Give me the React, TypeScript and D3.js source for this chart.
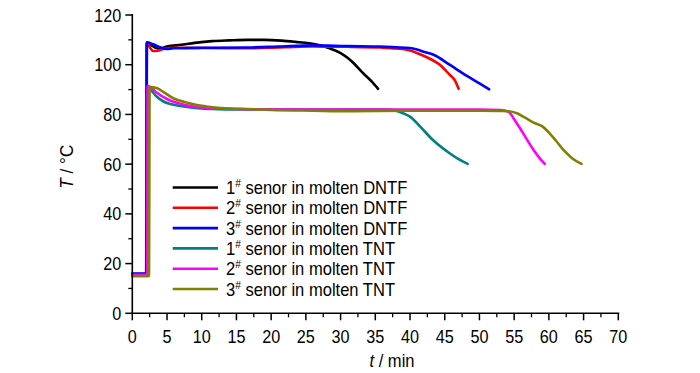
import React from "react";
import * as d3 from "d3";

const xTicks = [0, 5, 10, 15, 20, 25, 30, 35, 40, 45, 50, 55, 60, 65, 70];
const yTicks = [0, 20, 40, 60, 80, 100, 120];

const seriesNames = [
  "1# senor in molten DNTF",
  "2# senor in molten DNTF",
  "3# senor in molten DNTF",
  "1# senor in molten TNT",
  "2# senor in molten TNT",
  "3# senor in molten TNT",
];
const seriesColors = ["#000000", "#ff0000", "#0000ff", "#008080", "#ff00ff", "#808000"];

const dntf1T = [0, 2.0, 2.1, 2.6, 3.2, 4.0, 5.0, 7.0, 9.0, 11.5, 14, 16.5, 19, 21.5, 23.5, 25.5, 27, 28.5, 30, 31, 32, 33.2, 34.5, 35.4];
const dntf1V = [15.5, 15.5, 108.5, 108, 107, 106.5, 107.3, 108, 108.8, 109.5, 109.8, 110, 110, 109.7, 109.2, 108.6, 107.8, 106.5, 104.7, 102.8, 100.3, 96.7, 93.2, 90.3];

const dntf2T = [0, 2.0, 2.05, 2.5, 3.0, 3.6, 4.5, 6, 10, 16.5, 22, 26, 31, 35.7, 38, 40, 41.6, 43, 44.3, 45.7, 46.5, 47.0];
const dntf2V = [15.8, 15.8, 108.8, 107, 105.5, 105.6, 106.3, 106.8, 106.7, 106.6, 107, 107.3, 107.2, 106.9, 106.5, 105.7, 104, 102.2, 100, 96, 93.5, 90.3];

const dntf3T = [0, 2.05, 2.1, 3.0, 4.0, 4.9, 6, 10, 16.5, 21, 26, 31, 35.7, 38, 40, 41, 42, 43.4, 45.7, 48.2, 50, 51.4];
const dntf3V = [16, 16, 109, 108.2, 107, 106.3, 106.6, 106.8, 106.9, 107.3, 107.8, 107.5, 107.3, 107, 106.7, 106.1, 105.2, 104, 100, 95.5, 92.5, 90.1];

const tnt1T = [0, 2.2, 2.3, 2.8, 3.5, 4.5, 5.5, 6.9, 9, 11.6, 15, 20, 25, 30, 35, 37, 38, 39, 40, 41.5, 43.3, 45.7, 47, 48.3];
const tnt1V = [15, 15, 91, 89.5, 87.2, 85.2, 84.2, 83.4, 82.6, 82.2, 82, 82, 82, 82, 82, 81.9, 81.5, 80.5, 79.1, 75, 69.7, 64.4, 62, 60.1];

const tnt2T = [0, 2.15, 2.2, 2.8, 3.5, 5, 7, 10, 15, 20, 30, 40, 50, 53, 54.2, 54.9, 55.6, 56.3, 57.8, 58.7, 59.4];
const tnt2V = [15.5, 15.5, 91.5, 90.5, 88.8, 86.2, 84.2, 82.8, 82.2, 82, 82, 82, 82, 81.8, 81.1, 78.5, 75.5, 72.4, 65.7, 62.3, 60.1];

const tnt3T = [0, 2.4, 2.5, 3.5, 4.5, 5.9, 7.5, 9.3, 11.6, 14, 16.5, 20, 26, 31.3, 40, 50, 53, 54.2, 55.4, 56.5, 57.8, 59, 60.1, 61, 62.1, 63.3, 64.7];
const tnt3V = [15, 15, 91, 90.6, 89, 86.5, 85, 83.8, 82.9, 82.4, 82.2, 81.8, 81.5, 81.3, 81.5, 81.5, 81.4, 81.3, 80.5, 78.8, 76.7, 75.3, 72.4, 69.5, 65.7, 62.5, 60.1];

const seriesT = [dntf1T, dntf2T, dntf3T, tnt1T, tnt2T, tnt3T];
const seriesV = [dntf1V, dntf2V, dntf3V, tnt1V, tnt2V, tnt3V];

const FONT = "'Liberation Sans', Arial, sans-serif";

export default function App() {
  const W = 700;
  const H = 373;
  const x0 = 132.3;
  const x1 = 618.3;
  const yTop = 15;
  const yBot = 313.3;
  const x = d3.scaleLinear().domain([0, 70]).range([x0, x1]);
  const y = d3.scaleLinear().domain([0, 120]).range([yBot, yTop]);
  const line = d3
    .line<[number, number]>()
    .x((d) => x(d[0]))
    .y((d) => y(d[1]))
    .curve(d3.curveMonotoneX);

  const xMinor = d3.range(0, 70.01, 2.5).filter((v) => v % 5 !== 0);
  const yMinor = d3.range(0, 120.01, 10).filter((v) => v % 20 !== 0);

  const legX1 = 172.7;
  const legX2 = 218;
  const legText = 226;
  const legY0 = 187.5;
  const legDy = 20.3;

  return (
    <svg width={W} height={H} style={{ position: "absolute", left: 0, top: 0 }}>
      <rect width={W} height={H} fill="#fff" />
      {seriesT.map((ts, i) => {
        const pts: [number, number][] = ts.map((t, k) => [t, seriesV[i][k]]);
        return (
          <path
            key={i}
            d={line(pts) || ""}
            fill="none"
            stroke={seriesColors[i]}
            strokeWidth={2.6}
            strokeLinejoin="round"
            strokeLinecap="round"
          />
        );
      })}
      {/* axes */}
      <line x1={x0} x2={x0} y1={yTop - 1} y2={yBot + 1} stroke="#000" strokeWidth={1.6} />
      <line x1={x0 - 1} x2={x1 + 1} y1={yBot} y2={yBot} stroke="#000" strokeWidth={1.6} />
      {yTicks.map((v) => (
        <g key={"yt" + v}>
          <line x1={x0 - 7} x2={x0} y1={y(v)} y2={y(v)} stroke="#000" strokeWidth={1.5} />
          <text
            transform={`translate(${x0 - 11},${y(v) + 6.5}) scale(0.9,1)`}
            textAnchor="end"
            fontFamily={FONT}
            fontSize={18}
            fill="#000"
          >
            {v}
          </text>
        </g>
      ))}
      {yMinor.map((v) => (
        <line key={"ym" + v} x1={x0 - 4} x2={x0} y1={y(v)} y2={y(v)} stroke="#000" strokeWidth={1.3} />
      ))}
      {xTicks.map((v) => (
        <g key={"xt" + v}>
          <line x1={x(v)} x2={x(v)} y1={yBot} y2={yBot + 7} stroke="#000" strokeWidth={1.5} />
          <text
            transform={`translate(${x(v)},${yBot + 30}) scale(0.9,1)`}
            textAnchor="middle"
            fontFamily={FONT}
            fontSize={18}
            fill="#000"
          >
            {v}
          </text>
        </g>
      ))}
      {xMinor.map((v) => (
        <line key={"xm" + v} x1={x(v)} x2={x(v)} y1={yBot} y2={yBot + 4} stroke="#000" strokeWidth={1.3} />
      ))}
      {/* axis titles */}
      <text
        transform={`translate(${392},${367}) scale(0.92,1)`}
        textAnchor="middle"
        fontFamily={FONT}
        fontSize={18}
        fill="#000"
      >
        <tspan fontStyle="italic">t</tspan> / min
      </text>
      <text
        transform={`translate(${72.5},${166.7}) rotate(-90) scale(0.95,1)`}
        textAnchor="middle"
        fontFamily={FONT}
        fontSize={18}
        fill="#000"
      >
        <tspan fontStyle="italic">T</tspan> / °C
      </text>
      {/* legend */}
      {seriesNames.map((name, i) => {
        const yy = legY0 + i * legDy;
        const num = name.slice(0, 1);
        const rest = name.slice(2);
        return (
          <g key={"lg" + i}>
            <line x1={legX1} x2={legX2} y1={yy} y2={yy} stroke={seriesColors[i]} strokeWidth={2.6} />
            <text
              transform={`translate(${legText},${yy + 6.5}) scale(0.92,1)`}
              fontFamily={FONT}
              fontSize={18}
              fill="#000"
            >
              {num}
              <tspan fontSize={11} dy={-7}>#</tspan>
              <tspan dy={7}>{rest}</tspan>
            </text>
          </g>
        );
      })}
    </svg>
  );
}
